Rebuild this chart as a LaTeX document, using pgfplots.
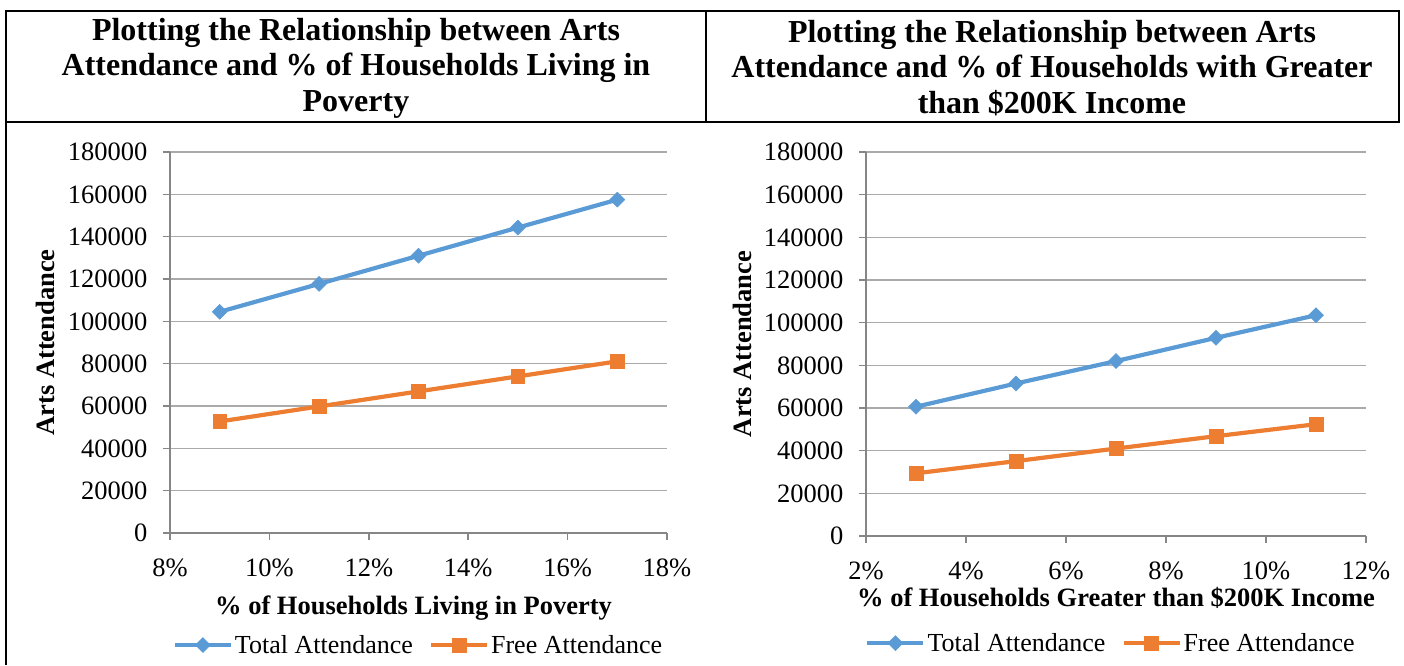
\documentclass[border=0pt]{standalone}
\usepackage{fontspec}
\setmainfont{Liberation Serif}
\usepackage{pgfplots}
\pgfplotsset{compat=1.18}

\definecolor{totalblue}{RGB}{91,155,213}
\definecolor{freeorange}{RGB}{237,125,49}
\definecolor{gridgray}{RGB}{170,170,170}
\definecolor{axisgray}{RGB}{134,134,134}

\pgfplotstableread{
x     total   free
9     104500  52700
11    117700  59800
13    131000  66900
15    144300  74000
17    157500  81100
}\povertydata

\pgfplotstableread{
x     total   free
3     60600   29400
5     71500   35100
7     82000   41000
9     92900   46800
11    103500  52400
}\incomedata

\pgfplotsset{
  attend/.style={
    scale only axis,
    anchor=south west,
    axis x line*=bottom,
    axis y line*=left,
    axis line style={axisgray, line width=2.2pt, -},
    ymin=0, ymax=180000,
    ytick={0,20000,40000,60000,80000,100000,120000,140000,160000,180000},
    scaled y ticks=false,
    ymajorgrids,
    major grid style={gridgray, line width=1.6pt},
    tick align=outside,
    major tick length=7pt,
    tick style={axisgray, line width=1.6pt},
    /pgf/number format/assume math mode=true,
    yticklabel style={/pgf/number format/fixed, /pgf/number format/1000 sep={},
      font=\fontsize{26.5}{30}\selectfont, xshift=-12pt},
    xticklabel style={font=\fontsize{26.5}{30}\selectfont, yshift=-15pt},
    label style={font=\fontsize{26.5}{30}\selectfont\bfseries},
    ylabel={Arts Attendance},
    legend style={draw=none, fill=none, legend columns=2,
      font=\fontsize{26}{30}\selectfont,
      /tikz/every even column/.append style={column sep=14pt},
      anchor=center},
    legend image code/.code={\draw[mark repeat=2, mark phase=2, #1]
      plot coordinates {(0pt,0pt) (28pt,0pt) (56pt,0pt)};},
  },
  totalline/.style={totalblue, line width=4.2pt, mark=square*, mark size=5.3pt,
    mark options={rotate=45, solid, fill=totalblue, draw=totalblue, line width=0.5pt}},
  freeline/.style={freeorange, line width=4.2pt, mark=square*, mark size=6.8pt,
    mark options={solid, fill=freeorange, draw=freeorange, line width=0.5pt}},
}

\begin{document}
\begin{tikzpicture}
\useasboundingbox (0pt,0pt) rectangle (1404pt,-665pt);

% table frame around the two titles
\draw[line width=2pt] (5pt,-11pt) -- (1400pt,-11pt);
\draw[line width=2pt] (6pt,-10pt) -- (6pt,-665pt);
\draw[line width=2pt] (706pt,-10pt) -- (706pt,-122pt);
\draw[line width=2pt] (1399pt,-10pt) -- (1399pt,-123pt);
\draw[line width=2pt] (5pt,-122pt) -- (1400pt,-122pt);

\node[font=\fontsize{32}{35.5}\selectfont\bfseries, align=center] at (356pt,-68pt)
  {Plotting the Relationship between Arts\\Attendance and \% of Households Living in\\Poverty};
\node[font=\fontsize{32}{35.5}\selectfont\bfseries, align=center] at (1052pt,-68pt)
  {Plotting the Relationship between Arts\\Attendance and \% of Households with Greater\\than \$200K Income};

% poverty chart
\begin{axis}[attend,
  at={(170pt,-533pt)},
  width=497pt, height=381pt,
  xmin=8, xmax=18,
  xtick={8,10,12,14,16,18},
  xticklabels={8\%,10\%,12\%,14\%,16\%,18\%},
  xlabel={\% of Households Living in Poverty},
  xlabel style={at={(axis description cs:0.49,-0.197)}, anchor=center},
  ylabel style={at={(axis description cs:-0.2515,0.5)}, anchor=center, rotate=0},
  legend style={at={(axis description cs:0.5,-0.294)}},
]
\addplot[totalline] table[x=x, y=total] {\povertydata};
\addlegendentry{Total Attendance}
\addplot[freeline] table[x=x, y=free] {\povertydata};
\addlegendentry{Free Attendance}
\end{axis}

% income chart
\begin{axis}[attend,
  at={(866pt,-536pt)},
  width=500pt, height=384pt,
  xmin=2, xmax=12,
  xtick={2,4,6,8,10,12},
  xticklabels={2\%,4\%,6\%,8\%,10\%,12\%},
  xlabel={\% of Households Greater than \$200K Income},
  xlabel style={at={(axis description cs:0.5,-0.161)}, anchor=center},
  ylabel style={at={(axis description cs:-0.248,0.5)}, anchor=center, rotate=0},
  legend style={at={(axis description cs:0.49,-0.279)}},
]
\addplot[totalline] table[x=x, y=total] {\incomedata};
\addlegendentry{Total Attendance}
\addplot[freeline] table[x=x, y=free] {\incomedata};
\addlegendentry{Free Attendance}
\end{axis}
\end{tikzpicture}
\end{document}
